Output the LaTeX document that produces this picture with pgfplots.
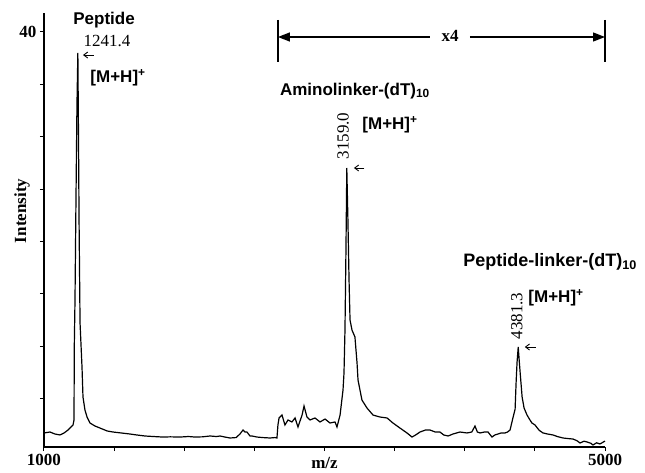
\documentclass[border=0pt]{standalone}
\usepackage{pgfplots}
\pgfplotsset{compat=1.18}
\usepackage{fontspec}
\setmainfont{Liberation Serif}
\setsansfont{Liberation Sans}
\usetikzlibrary{arrows.meta}

\pgfplotstableread{
mz     int
1000   1.74
1043   1.83
1078   1.64
1114   1.55
1143   1.74
1171   2.02
1193   2.31
1207   2.50
1214   2.98
1216   10.0
1221   14.4
1228   24.0
1235   33.0
1241.4 38.0
1246   30.0
1250   22.0
1257   12.23
1264   10.13
1271   8.03
1278   5.17
1292   3.93
1307   3.26
1328   2.69
1364   2.40
1399   2.21
1450   1.93
1492   1.83
1550   1.74
1613   1.64
1660   1.55
1720   1.45
1780   1.40
1848   1.35
1900   1.37
1970   1.35
2030   1.40
2077   1.35
2130   1.37
2184   1.45
2230   1.40
2255   1.45
2290   1.35
2326   1.26
2370   1.30
2397   1.64
2419   2.02
2433   1.83
2447   1.83
2469   1.45
2483   1.45
2519   1.35
2561   1.30
2611   1.26
2647   1.30
2661   1.26
2668   2.50
2676   3.17
2697   3.45
2718   2.50
2740   2.98
2768   2.79
2790   3.17
2811   2.31
2840   3.45
2854   4.31
2875   3.26
2897   2.98
2932   3.17
2968   2.79
3004   3.07
3039   2.69
3075   2.79
3089   2.31
3111   3.45
3132   5.84
3139   7.46
3146   11.56
3153   19.2
3159   27.02
3167   22.06
3175   16.33
3182   12.52
3196   11.56
3217   10.90
3232   8.42
3239   6.79
3267   4.88
3303   4.12
3346   3.45
3396   3.26
3446   3.17
3488   2.69
3538   2.21
3588   1.74
3624   1.35
3650   1.55
3681   1.83
3720   2.02
3752   2.02
3790   1.83
3823   1.83
3850   1.55
3881   1.45
3916   1.64
3966   1.83
4016   1.74
4050   1.83
4073   2.40
4090   1.83
4109   1.74
4140   1.83
4166   1.83
4194   1.35
4215   1.55
4237   1.64
4260   1.74
4287   1.74
4305   1.83
4323   2.02
4340   2.98
4359   4.00
4366   6.50
4373   8.50
4381.3 9.94
4388   8.70
4395   7.50
4409   5.17
4423   4.12
4444   3.45
4465   2.98
4479   2.69
4501   2.50
4530   2.00
4558   1.74
4590   1.64
4629   1.55
4660   1.40
4700   1.26
4740   1.20
4772   1.16
4800   1.00
4822   0.78
4850   0.95
4872   0.88
4900   0.75
4914   0.59
4940   0.80
4964   0.69
4985   0.85
5000   0.97
}\spectrum

\begin{document}
\begin{tikzpicture}
  \begin{axis}[
      name=ax,
      scale only axis,
      width=561pt, height=434pt,
      xmin=1000, xmax=5000,
      ymin=0.40, ymax=41.81,
      axis x line*=bottom,
      axis y line*=left,
      axis line style={line width=1.3pt},
      tick align=outside,
      major tick length=4pt,
      tick style={line width=1pt, black},
      xtick={1000,1500,...,5000},
      xticklabels={1000,{},{},{},{},{},{},{},5000},
      ytick={5,10,...,40},
      yticklabels={{},{},{},{},{},{},{},40},
      ticklabel style={font=\fontsize{17}{20}\selectfont\bfseries},
      xlabel={m/z},
      ylabel={Intensity},
      every axis x label/.style={at={(axis description cs:0.5,-0.037)}, anchor=center,
        font=\fontsize{17}{20}\selectfont\bfseries},
      every axis y label/.style={at={(axis description cs:-0.0392,0.544)}, rotate=90, anchor=center,
        font=\fontsize{17}{20}\selectfont\bfseries},
      clip=false,
    ]
    \addplot[black, line width=1.2pt] table[x=mz, y=int] {\spectrum};

    \coordinate (sw) at (rel axis cs:0,0);

    % peak annotations
    \begin{scope}[font=\fontsize{17}{20}\selectfont,
        lbl/.style={font=\fontsize{17}{20}\selectfont\sffamily\bfseries},
        pk/.style={-{Straight Barb[length=4pt,width=6pt]}, line width=0.9pt}]
      \node[lbl] at (axis cs:1428,41.15) {Peptide};
      \node at (axis cs:1449,39.14) {1241.4};
      \draw[pk] (axis cs:1355,37.8) -- (axis cs:1278,37.8);
      \node[lbl] at (axis cs:1528,35.61) {[M+H]\textsuperscript{+}};

      \node[lbl] at (axis cs:3217,34.37) {Aminolinker-(dT)\textsubscript{10}};
      \node[rotate=90] at (axis cs:3132,30.08) {3159.0};
      \draw[pk] (axis cs:3285,27.02) -- (axis cs:3210,27.02);
      \node[lbl] at (axis cs:3467,31.13) {[M+H]\textsuperscript{+}};

      \node[lbl, font=\fontsize{18}{21}\selectfont\sffamily\bfseries] at (axis cs:4608,18.05) {Peptide-linker-(dT)\textsubscript{10}};
      \node[rotate=90] at (axis cs:4372,12.90) {4381.3};
      \draw[pk] (axis cs:4505,9.94) -- (axis cs:4428,9.94);
      \node[lbl] at (axis cs:4651,14.62) {[M+H]\textsuperscript{+}};

      % x4 bracket
      \draw[line width=1.3pt] (axis cs:2668,41.15) -- (axis cs:2668,37.14);
      \draw[line width=1.3pt] (axis cs:5000,41.15) -- (axis cs:5000,37.14);
      \draw[{Triangle[length=12pt,width=9pt]}-, line width=1.3pt] (axis cs:2668,39.52) -- (axis cs:3752,39.52);
      \draw[-{Triangle[length=12pt,width=9pt]}, line width=1.3pt] (axis cs:4037,39.52) -- (axis cs:5000,39.52);
      \node[font=\fontsize{17}{20}\selectfont\bfseries] at (axis cs:3895,39.6) {x4};
    \end{scope}
  \end{axis}
  \pgfresetboundingbox
  \path[use as bounding box] ([shift={(-44pt,-25pt)}]sw) rectangle ++(645pt,472pt);
\end{tikzpicture}
\end{document}
